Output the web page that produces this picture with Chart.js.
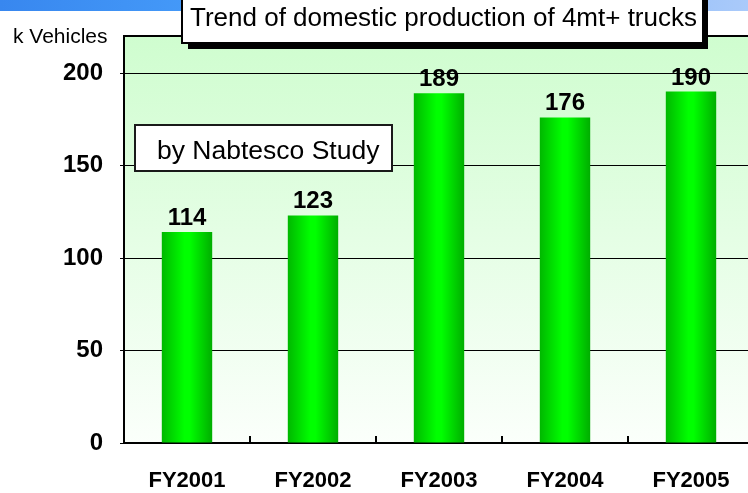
<!DOCTYPE html>
<html>
<head>
<meta charset="utf-8">
<script src="https://cdn.jsdelivr.net/npm/chart.js@4"></script>
<style>
  html, body { margin: 0; padding: 0; background: #fff; overflow: hidden; width: 748px; height: 493px; }
  #wrap { position: relative; width: 760px; height: 493px; }
</style>
</head>
<body>
<div id="wrap"><canvas id="c" width="760" height="493"></canvas></div>
<script>
// Domestic production of 4mt+ trucks, thousand vehicles
const categories = ['FY2001', 'FY2002', 'FY2003', 'FY2004', 'FY2005'];
const production = [114, 123, 189, 176, 190];
const yTicks = [0, 50, 100, 150, 200];
const titleText = 'Trend of domestic production of 4mt+ trucks';
const unitText = 'k Vehicles';
const sourceText = 'by Nabtesco Study';

const FONT = '"Liberation Sans", Arial, Helvetica, sans-serif';

const decor = {
  id: 'decor',
  beforeDraw(chart) {
    const { ctx, chartArea: a, width } = chart;
    ctx.save();
    // blue header band
    const hb = ctx.createLinearGradient(0, 0, 748, 0);
    hb.addColorStop(0, '#3887ef');
    hb.addColorStop(0.25, '#4499f8');
    hb.addColorStop(1, '#aacafa');
    ctx.fillStyle = hb;
    ctx.fillRect(0, 0, width, 11);
    // plot background
    const bg = ctx.createLinearGradient(0, a.top, 0, a.bottom);
    bg.addColorStop(0, '#cffdcf');
    bg.addColorStop(1, '#fbfffb');
    ctx.fillStyle = bg;
    ctx.fillRect(a.left, a.top, a.right - a.left, a.bottom - a.top);
    ctx.restore();
  },
  beforeDatasetsDraw(chart) {
    const { ctx } = chart;
    chart.getDatasetMeta(0).data.forEach(el => {
      const x0 = el.x - el.width / 2;
      const g = ctx.createLinearGradient(x0, 0, x0 + el.width, 0);
      g.addColorStop(0, '#00b800');
      g.addColorStop(0.45, '#00ff00');
      g.addColorStop(0.55, '#00ff00');
      g.addColorStop(1, '#00ae00');
      // give each bar its own options object so the gradients don't collide
      el.options = Object.assign({}, el.options, { backgroundColor: g });
    });
  },
  afterDatasetsDraw(chart) {
    const { ctx, chartArea: a } = chart;
    const xs = chart.scales.x;
    ctx.save();
    // top border of plot
    ctx.strokeStyle = '#000';
    ctx.lineWidth = 2;
    ctx.beginPath();
    ctx.moveTo(a.left, a.top);
    ctx.lineTo(a.right, a.top);
    ctx.stroke();
    // inward category tick marks
    for (let i = 1; i < categories.length; i++) {
      const x = Math.round((xs.getPixelForValue(i - 1) + xs.getPixelForValue(i)) / 2);
      ctx.beginPath();
      ctx.moveTo(x, a.bottom);
      ctx.lineTo(x, a.bottom - 7);
      ctx.stroke();
    }
    // value labels
    ctx.fillStyle = '#000';
    ctx.font = 'bold 24px ' + FONT;
    ctx.textAlign = 'center';
    ctx.textBaseline = 'alphabetic';
    chart.getDatasetMeta(0).data.forEach((el, i) => {
      ctx.fillText(String(production[i]), el.x, el.y - 7);
    });
    ctx.restore();
  },
  afterDraw(chart) {
    const { ctx } = chart;
    ctx.save();
    // unit label
    ctx.fillStyle = '#000';
    ctx.font = '21px ' + FONT;
    ctx.textAlign = 'left';
    ctx.textBaseline = 'alphabetic';
    ctx.fillText(unitText, 13, 43);

    // source box
    ctx.fillStyle = '#fff';
    ctx.fillRect(135, 125, 257, 46);
    ctx.strokeStyle = '#1a1a1a';
    ctx.lineWidth = 2;
    ctx.strokeRect(135, 125, 257, 46);
    ctx.fillStyle = '#000';
    ctx.font = '26.5px ' + FONT;
    ctx.fillText(sourceText, 157, 159);

    // title box with drop shadow
    ctx.fillStyle = '#000';
    ctx.fillRect(188, -4, 520, 53);
    ctx.fillStyle = '#fff';
    ctx.fillRect(182, -10, 521, 53);
    ctx.strokeStyle = '#000';
    ctx.lineWidth = 2;
    ctx.strokeRect(182, -10, 521, 53);
    ctx.fillStyle = '#000';
    ctx.font = '26px ' + FONT;
    ctx.fillText(titleText, 190, 26);
    ctx.restore();
  }
};

new Chart(document.getElementById('c'), {
  type: 'bar',
  data: {
    labels: categories,
    datasets: [{
      data: production,
      backgroundColor: '#00ee00',
      borderWidth: 0,
      barPercentage: 0.4,
      categoryPercentage: 1.0
    }]
  },
  options: {
    responsive: false,
    animation: false,
    devicePixelRatio: 1,
    layout: { padding: { top: 36, right: 6, left: 0, bottom: 0 } },
    plugins: { legend: { display: false }, title: { display: false }, tooltip: { enabled: false } },
    scales: {
      x: {
        offset: true,
        grid: { display: false },
        border: { display: true, color: '#000', width: 2 },
        ticks: { color: '#000', font: { family: FONT, size: 22, weight: 'bold' }, padding: 17, maxRotation: 0 },
        afterFit(s) { s.height = 50; }
      },
      y: {
        min: 0,
        max: 220,
        afterBuildTicks(s) { s.ticks = yTicks.map(v => ({ value: v })); },
        grid: { color: '#000', lineWidth: 1, tickLength: 4, drawOnChartArea: true },
        border: { display: true, color: '#000', width: 2 },
        ticks: { color: '#000', font: { family: FONT, size: 24, weight: 'bold' }, padding: 17 },
        afterFit(s) { s.width = 124; }
      }
    }
  },
  plugins: [decor]
});
</script>
</body>
</html>
